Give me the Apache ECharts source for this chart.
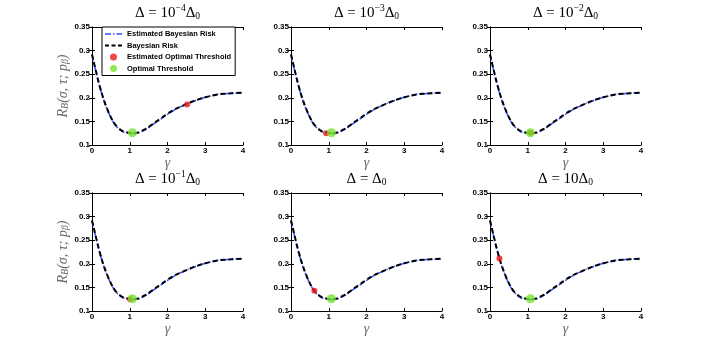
<!DOCTYPE html>
<html>
<head>
<meta charset="utf-8">
<script src="https://cdn.jsdelivr.net/npm/echarts@6/dist/echarts.min.js"></script>
<style>
  body { margin: 0; background: #fff; }
  #main { width: 708px; height: 351px; }
</style>
</head>
<body>
<div id="main"></div>
<script>
// gamma grid and risk curves
var gammaValues = [0, 0.1, 0.2, 0.3, 0.4, 0.5, 0.6, 0.7, 0.8, 0.9, 1.0, 1.1, 1.2, 1.3, 1.4, 1.5, 1.6, 1.8, 2.0, 2.2, 2.4, 2.6, 2.8, 3.0, 3.2, 3.4, 3.6, 3.8, 4.0];
var bayesRisk = [0.292, 0.258, 0.226, 0.199, 0.177, 0.159, 0.145, 0.136, 0.130, 0.127, 0.1255, 0.125, 0.126, 0.129, 0.133, 0.138, 0.144, 0.155, 0.166, 0.176, 0.183, 0.190, 0.196, 0.201, 0.205, 0.208, 0.209, 0.210, 0.211];
var estBayesRisk = [0.291, 0.257, 0.225, 0.198, 0.176, 0.158, 0.144, 0.135, 0.129, 0.126, 0.125, 0.1245, 0.1255, 0.128, 0.132, 0.137, 0.143, 0.154, 0.165, 0.175, 0.183, 0.190, 0.196, 0.201, 0.205, 0.208, 0.209, 0.210, 0.211];

// thresholds per panel
var estOptGamma = [2.52, 0.93, 1.07, 1.01, 0.62, 0.25];
var estOptRisk = [0.186, 0.125, 0.126, 0.125, 0.143, 0.211];
var optGamma = 1.07;
var optRisk = 0.126;

// panel titles (rich text)
var titleTexts = [
  '{a|Δ = 10}{sup|−4}{a|Δ}{sub|0}',
  '{a|Δ = 10}{sup|−3}{a|Δ}{sub|0}',
  '{a|Δ = 10}{sup|−2}{a|Δ}{sub|0}',
  '{a|Δ = 10}{sup|−1}{a|Δ}{sub|0}',
  '{a|Δ = Δ}{sub|0}',
  '{a|Δ = 10Δ}{sub|0}'
];

var gridLefts = [92, 291, 490];
var gridTops = [27, 193];
var gridW = 151, gridH = 118;

var serif = 'Liberation Serif';
var titleRich = {
  a: { fontFamily: serif, fontSize: 15, fontWeight: 'normal', color: '#000', lineHeight: 18, verticalAlign: 'bottom' },
  sup: { fontFamily: serif, fontSize: 9.5, fontWeight: 'normal', color: '#000', lineHeight: 11, verticalAlign: 'top' },
  sub: { fontFamily: serif, fontSize: 9.5, fontWeight: 'normal', color: '#000', lineHeight: 9, verticalAlign: 'bottom' }
};
var nameRich = {
  a: { fontFamily: serif, fontStyle: 'italic', fontSize: 14, color: '#6a6a6a', lineHeight: 17, verticalAlign: 'bottom' },
  sub: { fontFamily: serif, fontStyle: 'italic', fontSize: 10, color: '#6a6a6a', lineHeight: 10, verticalAlign: 'bottom' }
};
var tickLabel = { fontFamily: 'Liberation Sans', fontSize: 8, fontWeight: 'bold', color: '#000' };

var grids = [], xAxes = [], yAxes = [], titles = [], series = [];

for (var i = 0; i < 6; i++) {
  var row = Math.floor(i / 3), col = i % 3;
  grids.push({ left: gridLefts[col], top: gridTops[row], width: gridW, height: gridH, show: false });

  titles.push({
    text: titleTexts[i],
    left: gridLefts[col] + gridW / 2,
    top: gridTops[row] - 24,
    padding: 0,
    textAlign: 'center',
    textStyle: { rich: titleRich }
  });

  // bottom + top x axis
  xAxes.push({
    type: 'value', gridIndex: i, min: 0, max: 4, interval: 1, position: 'bottom',
    axisLine: { lineStyle: { color: '#000', width: 1 } },
    axisTick: { inside: true, length: 3, lineStyle: { color: '#000' } },
    axisLabel: Object.assign({ margin: 2 }, tickLabel),
    splitLine: { show: false },
    name: '{a|γ}', nameLocation: 'middle', nameGap: 2,
    nameTextStyle: { rich: nameRich }
  });
  xAxes.push({
    type: 'value', gridIndex: i, min: 0, max: 4, interval: 1, position: 'top',
    axisLine: { lineStyle: { color: '#000', width: 1 } },
    axisTick: { inside: true, length: 3, lineStyle: { color: '#000' } },
    axisLabel: { show: false }, splitLine: { show: false }
  });

  // left + right y axis
  var yLeft = {
    type: 'value', gridIndex: i, min: 0.1, max: 0.35, interval: 0.05, position: 'left',
    axisLine: { show: true, lineStyle: { color: '#000', width: 1 } },
    axisTick: { show: true, inside: true, length: 3, lineStyle: { color: '#000' } },
    axisLabel: Object.assign({ margin: 2, formatter: function (v) { return +v.toFixed(2) + ''; } }, tickLabel),
    splitLine: { show: false }
  };
  if (col === 0) {
    yLeft.name = '{a|R}{sub|B}{a|(σ, τ; p}{sub|β}{a|)}';
    yLeft.nameLocation = 'middle';
    yLeft.nameRotate = 90;
    yLeft.nameGap = 18;
    yLeft.nameTextStyle = { rich: nameRich };
  }
  yAxes.push(yLeft);
  yAxes.push({
    type: 'value', gridIndex: i, min: 0.1, max: 0.35, interval: 0.05, position: 'right',
    axisLine: { show: true, lineStyle: { color: '#000', width: 1 } },
    axisTick: { show: true, inside: true, length: 3, lineStyle: { color: '#000' } },
    axisLabel: { show: false }, splitLine: { show: false }
  });

  var estLine = [], bayLine = [];
  for (var k = 0; k < gammaValues.length; k++) {
    estLine.push([gammaValues[k], estBayesRisk[k]]);
    bayLine.push([gammaValues[k], bayesRisk[k]]);
  }

  series.push({
    name: 'Estimated Bayesian Risk', type: 'line', xAxisIndex: 2 * i, yAxisIndex: 2 * i,
    data: estLine, smooth: true, symbol: 'none', z: 2,
    lineStyle: { color: '#2e4cff', width: 1.5, type: [6, 2, 1.5, 2] },
    itemStyle: { color: '#2e4cff' }
  });
  series.push({
    name: 'Bayesian Risk', type: 'line', xAxisIndex: 2 * i, yAxisIndex: 2 * i,
    data: bayLine, smooth: true, symbol: 'none', z: 3,
    lineStyle: { color: '#000', width: 2, type: [5, 3] },
    itemStyle: { color: '#000' }
  });
  series.push({
    name: 'Estimated Optimal Threshold', type: 'scatter', xAxisIndex: 2 * i, yAxisIndex: 2 * i,
    data: [[estOptGamma[i], estOptRisk[i]]], symbolSize: 6, z: 4,
    itemStyle: { color: '#f01818' }
  });
  series.push({
    name: 'Optimal Threshold', type: 'scatter', xAxisIndex: 2 * i, yAxisIndex: 2 * i,
    data: [[optGamma, optRisk]], symbolSize: 9, z: 5,
    itemStyle: { color: '#74e52a' }
  });
}

var chart = echarts.init(document.getElementById('main'), null, { renderer: 'canvas' });
chart.setOption({
  animation: false,
  backgroundColor: '#fff',
  title: titles,
  legend: {
    left: 102, top: 27, orient: 'vertical',
    data: [
      { name: 'Estimated Bayesian Risk', itemStyle: { opacity: 0 }, lineStyle: { type: [6, 2, 1.5, 2], width: 1.5 } },
      { name: 'Bayesian Risk', itemStyle: { opacity: 0 }, lineStyle: { type: [4, 2.5], width: 2 } },
      { name: 'Estimated Optimal Threshold', icon: 'circle' },
      { name: 'Optimal Threshold', icon: 'circle' }
    ],
    itemWidth: 17, itemHeight: 7, itemGap: 3.5,
    padding: [3, 4, 3, 2],
    backgroundColor: '#fff', borderColor: '#000', borderWidth: 1,
    textStyle: { fontFamily: 'Liberation Sans', fontSize: 7.5, fontWeight: 'bold', color: '#000' }
  },
  grid: grids,
  xAxis: xAxes,
  yAxis: yAxes,
  series: series
});
</script>
</body>
</html>
